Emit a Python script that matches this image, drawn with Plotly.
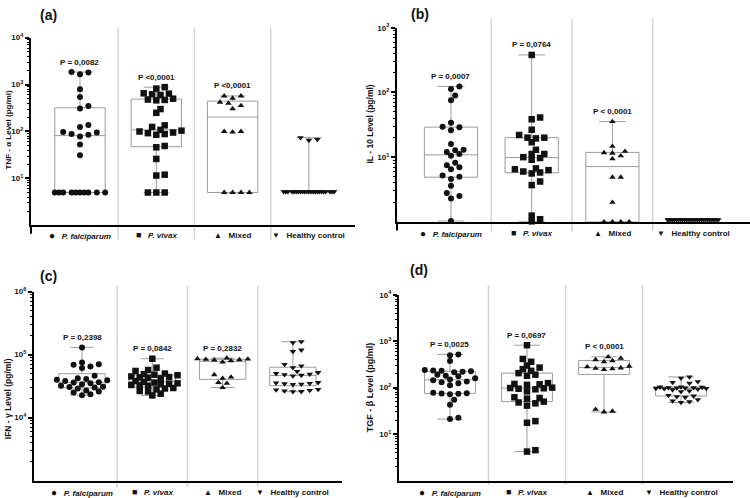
import numpy as np
import plotly.graph_objects as go

# ---------------- data ----------------
group_names = ["P. falciparum", "P. vivax", "Mixed", "Healthy control"]
group_glyphs = ["●", "■", "▲", "▼"]
group_texts = ["<i>P. falciparum</i>", "<i>P. vivax</i>", "Mixed", "Healthy control"]

# (a) TNF-alpha (pg/ml)
tnf_falciparum = [1850, 1800, 1650, 790, 540, 350, 310, 138, 125, 98, 95, 88, 85, 78,
                  53, 31, 5, 5, 5, 5, 5, 5, 5, 5, 5, 5]
tnf_vivax = [880, 820, 650, 640, 620, 600, 500, 480, 470, 460, 300, 250, 135, 125,
             108, 104, 100, 95, 92, 88, 85, 49, 46, 26, 12, 11.5, 5, 5, 5]
tnf_mixed = [570, 570, 510, 420, 400, 355, 305, 100, 100, 97, 5, 5, 5, 5]
tnf_healthy = [74, 68, 65, 5.2, 5.2, 5.2, 5.2, 5.2, 5.2, 5.2, 5.2, 5.2, 5.2, 5.2, 5.2,
               5.2, 5.2, 5.2, 5.2, 5.2, 5.2, 5.2, 5.2, 5.2, 5.2, 5.2]
tnf_p = ["P = 0,0082", "P <0,0001", "P <0,0001", ""]

# (b) IL-10 (pg/ml)
il10_falciparum = [124, 113, 90, 76, 34, 29.5, 29, 26, 16, 13, 12.8, 12, 11.2, 10.5,
                   8.2, 7.5, 7.0, 6.5, 5.2, 5.0, 4.6, 3.6, 2.8, 2.5, 2.3, 1.03]
il10_vivax = [380, 41, 38.5, 26.5, 22, 20, 20, 19.5, 17, 13, 11.2, 11.2, 10, 9.7, 9.1,
              6.7, 6.5, 6.3, 6.0, 5.8, 5.6, 4.2, 3.7, 1.25, 1.1, 1.02]
il10_mixed = [35.5, 14.7, 12.3, 11.7, 11.5, 10.5, 9.4, 4.9, 4.9, 2.0, 1.0, 1.0, 1.0, 1.0]
il10_healthy = [1.08, 1.08, 1.08, 1.08, 1.08, 1.08, 1.08, 1.08, 1.08, 1.08, 1.08, 1.08,
                1.08, 1.08, 1.08, 1.08, 1.08, 1.08, 1.08, 1.08, 1.08, 1.08, 1.08, 1.08,
                1.08, 1.08]
il10_p = ["P = 0,0007", "P = 0,0764", "P < 0,0001", ""]

# (c) IFN-gamma (pg/ml)
ifn_falciparum = [130000, 75000, 70000, 69000, 65000, 61000, 46000, 42000, 41000, 40000,
                  39000, 38000, 36500, 36000, 35000, 34000, 32000, 31000, 30500, 30000,
                  29000, 27000, 26000, 25000, 23500, 22700]
ifn_vivax = [86000, 62000, 57000, 55000, 50000, 49000, 48000, 47000, 45000, 44000, 43500,
             43000, 42000, 38000, 37000, 36000, 35000, 34500, 34000, 33000, 32500, 32000,
             29500, 29000, 28000, 26500, 26000, 24000, 22500]
ifn_mixed = [88000, 86000, 85000, 84000, 83000, 82000, 80000, 76000, 48000, 44000, 42000,
             36000, 35000, 30000]
ifn_healthy = [160000, 155000, 118000, 112000, 70000, 66000, 62000, 54000, 52000, 50000,
               49000, 48000, 47000, 46000, 36000, 35500, 35000, 34500, 34000, 33500, 28000,
               27500, 27000, 26500, 26000, 25800]
ifn_p = ["P = 0,2398", "P = 0,0842", "P = 0,2832", ""]

# (d) TGF-beta (pg/ml)
tgf_falciparum = [520, 500, 375, 240, 235, 230, 225, 220, 215, 190, 180, 175, 160, 150,
                  145, 135, 130, 125, 112, 78, 76, 75, 74, 72, 55, 43, 22.5, 21]
tgf_vivax = [820, 415, 360, 300, 270, 250, 230, 205, 190, 180, 125, 120, 118, 115, 100,
             98, 97, 95, 92, 83, 62, 60, 58, 50, 48, 46, 41, 19, 17.5, 4.5, 4.2]
tgf_mixed = [460, 430, 400, 380, 360, 290, 280, 265, 260, 255, 245, 34, 31, 30]
tgf_healthy = [170, 160, 135, 130, 125, 104, 103, 102, 100, 100, 99, 98, 97, 96, 95, 93,
               90, 85, 82, 68, 66, 64, 62, 55, 52, 50, 48]
tgf_p = ["P = 0,0025", "P = 0,0697", "P < 0,0001", ""]

# ---------------- layout config ----------------
W, H = 750, 498
FONT = "Liberation Sans, Arial, sans-serif"
symbols = ["circle", "square", "triangle-up", "triangle-down"]
msizes = [6, 6.5, 5.8, 5.8]
glyph_sizes = [10, 9, 8, 8]

panels = [
    dict(tag="(a)", data=[tnf_falciparum, tnf_vivax, tnf_mixed, tnf_healthy], pv=tnf_p,
         ytitle="TNF - α Level (pg/ml)", ytsize=8,
         px=(31, 355), py=(222, 32), yr=(0, 4), xr=(-0.642, 3.604), yt=[1, 2, 3, 4],
         sep=(-0.079, 1.053), lab=-10, ext=True,
         tagpos=(48, 9), ytpos=(8, 126)),
    dict(tag="(b)", data=[il10_falciparum, il10_vivax, il10_mixed, il10_healthy], pv=il10_p,
         ytitle="IL - 10 Level (pg/ml)", ytsize=8.5,
         px=(397, 750), py=(218.5, 22), yr=(0, 3), xr=(-0.669, 3.705), yt=[1, 2, 3],
         sep=(-0.048, 1.046), lab=-11.5, ext=True,
         tagpos=(420, 8), ytpos=(370, 120)),
    dict(tag="(c)", data=[ifn_falciparum, ifn_vivax, ifn_mixed, ifn_healthy], pv=ifn_p,
         ytitle="IFN - γ Level (pg/ml)", ytsize=8.5,
         px=(34, 342), py=(480.5, 289), yr=(3, 6), xr=(-0.683, 3.698), yt=[4, 5, 6],
         sep=(-0.035, 1.031), lab=-11.5, ext=False,
         tagpos=(48, 273), ytpos=(8, 398)),
    dict(tag="(d)", data=[tgf_falciparum, tgf_vivax, tgf_mixed, tgf_healthy], pv=tgf_p,
         ytitle="TGF - β Level (pg/ml)", ytsize=9,
         px=(399, 733), py=(480.3, 292.3), yr=(0, 4), xr=(-0.662, 3.675), yt=[1, 2, 3, 4],
         sep=(-0.025, 1.053), lab=-11.5, ext=False,
         tagpos=(419, 267), ytpos=(370, 386)),
]


def swarm_offsets(values, dec_px, g=4.2, d=5.6, maxw=26.0):
    v = np.asarray(values, float)
    ypx = np.log10(v) * dec_px
    order = np.argsort(ypx, kind="stable")
    placed = []
    off = np.zeros(len(v))
    kmax = int(maxw // g)
    cands = sorted(range(-kmax, kmax + 1), key=lambda k: (abs(k), -k))
    fine = np.arange(-2 * kmax, 2 * kmax + 1) * g / 2
    for i in order:
        y = ypx[i]
        best = None
        for k in cands:
            x = k * g
            if all((x - a) ** 2 + (y - b) ** 2 >= d * d for a, b in placed):
                best = x
                break
        if best is None:
            scores = [min((x - a) ** 2 + (y - b) ** 2 for a, b in placed) for x in fine]
            best = fine[int(np.argmax(scores))]
        off[i] = best
        placed.append((best, y))
    return off


fig = go.Figure()
annotations = []
shapes = []
layout_axes = {}

for n, p in enumerate(panels, start=1):
    sfx = "" if n == 1 else str(n)
    xa, ya = "x" + sfx, "y" + sfx
    x0, x1 = p["px"]
    yb, yt = p["py"]
    dom_x = [x0 / W, x1 / W]
    dom_y = [1 - yb / H, 1 - yt / H]
    dec_px = (yb - yt) / (p["yr"][1] - p["yr"][0])
    gsp_px = (x1 - x0) / (p["xr"][1] - p["xr"][0])

    # boxes (min-max whiskers, quartiles from data)
    q1, med, q3, lo, hi = [], [], [], [], []
    for vals in p["data"]:
        a = np.asarray(vals, float)
        q1.append(float(np.percentile(a, 25, method="weibull")))
        med.append(float(np.percentile(a, 50, method="weibull")))
        q3.append(float(np.percentile(a, 75, method="weibull")))
        lo.append(float(a.min()))
        hi.append(float(a.max()))
    fig.add_trace(go.Box(
        x=[0, 1, 2, 3], q1=q1, median=med, q3=q3, lowerfence=lo, upperfence=hi,
        width=0.66, whiskerwidth=0.5, fillcolor="rgba(255,255,255,0)",
        line=dict(color="#9c9c9c", width=1), xaxis=xa, yaxis=ya,
        showlegend=False, hoverinfo="skip"))

    # points
    for gi, vals in enumerate(p["data"]):
        off = swarm_offsets(vals, dec_px)
        fig.add_trace(go.Scatter(
            x=gi + off / gsp_px, y=vals, mode="markers", xaxis=xa, yaxis=ya,
            marker=dict(symbol=symbols[gi], size=msizes[gi], color="#111111",
                        line=dict(width=0)),
            cliponaxis=False, showlegend=False, name=group_names[gi]))
        if p["pv"][gi]:
            annotations.append(dict(
                x=gi, y=float(np.log10(max(vals))), xref=xa, yref=ya,
                text="<b>" + p["pv"][gi] + "</b>", showarrow=False, yshift=10,
                font=dict(size=8, color="#111111", family=FONT)))
        label = ("<span style='font-size:%dpx'>%s</span>\u00a0\u00a0\u00a0<b>%s</b>"
                 % (glyph_sizes[gi], group_glyphs[gi], group_texts[gi]))
        annotations.append(dict(
            x=gi, y=0, xref=xa, yref=ya + " domain", text=label,
            showarrow=False, yanchor="middle", yshift=p["lab"],
            font=dict(size=8, color="#111111", family=FONT)))

    # separators
    for sx in (0.5, 1.5, 2.5):
        shapes.append(dict(type="line", xref=xa, yref=ya + " domain", x0=sx, x1=sx,
                           y0=p["sep"][0], y1=p["sep"][1], layer="below",
                           line=dict(color="#d4d4d4", width=1.5)))
    if p["ext"]:
        shapes.append(dict(type="line", xref=xa + " domain", yref=ya + " domain",
                           x0=0, x1=0, y0=-0.045, y1=0,
                           line=dict(color="black", width=2)))

    # panel tag and y title
    annotations.append(dict(
        x=p["tagpos"][0] / W, y=1 - p["tagpos"][1] / H, xref="paper", yref="paper",
        text="<b>" + p["tag"] + "</b>", showarrow=False, xanchor="center", yanchor="middle",
        font=dict(size=14, color="#111111", family=FONT)))
    annotations.append(dict(
        x=p["ytpos"][0] / W, y=1 - p["ytpos"][1] / H, xref="paper", yref="paper",
        text="<b>" + p["ytitle"] + "</b>", showarrow=False, textangle=-90,
        xanchor="center", yanchor="middle",
        font=dict(size=p["ytsize"], color="#111111", family=FONT)))

    r0, r1 = p["yr"]
    minor_vals = [m * 10 ** e for e in range(r0, r1) for m in range(2, 10)]
    layout_axes["xaxis" + sfx] = dict(
        domain=dom_x, range=list(p["xr"]), anchor=ya, showline=True, linecolor="black",
        linewidth=2, showticklabels=False, ticks="", showgrid=False, zeroline=False,
        fixedrange=True)
    layout_axes["yaxis" + sfx] = dict(
        type="log", domain=dom_y, range=list(p["yr"]), anchor=xa, showline=True,
        linecolor="black", linewidth=2, ticks="outside", ticklen=4, tickwidth=1.5,
        tickcolor="black", tickmode="array",
        tickvals=[10 ** e for e in p["yt"]],
        ticktext=["<b>10<sup>%d</sup></b>" % e for e in p["yt"]],
        tickfont=dict(size=8, color="#111111", family=FONT),
        minor=dict(tickmode="array", tickvals=minor_vals, ticks="outside", ticklen=2,
                   tickwidth=1, tickcolor="black", showgrid=False),
        showgrid=False, zeroline=False, fixedrange=True)

fig.update_layout(
    width=W, height=H, margin=dict(l=0, r=0, t=0, b=0),
    plot_bgcolor="white", paper_bgcolor="white", showlegend=False,
    font=dict(family=FONT, color="#111111"),
    annotations=annotations, shapes=shapes, **layout_axes)

fig.write_html("out.html", config={"displayModeBar": False},
               post_script="document.body.style.margin='0';"
                           "document.body.style.overflow='hidden';")
